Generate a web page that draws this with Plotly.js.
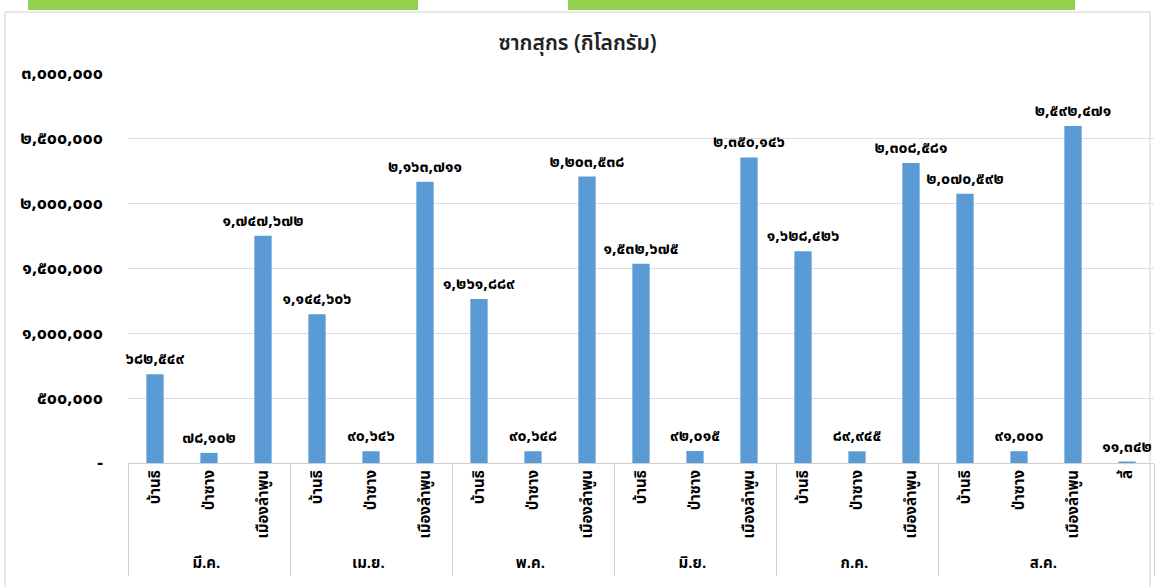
<!DOCTYPE html>
<html>
<head>
<meta charset="utf-8">
<script src="https://cdn.plot.ly/plotly-3.0.1.min.js"></script>
<style>
html,body{margin:0;padding:0;background:#fff;}
#chart{width:1155px;height:587px;}
</style>
</head>
<body>
<div id="chart"></div>
<script>
// ---- data ----
const months = ["มี.ค.","มี.ค.","มี.ค.","เม.ย.","เม.ย.","เม.ย.","พ.ค.","พ.ค.","พ.ค.","มิ.ย.","มิ.ย.","มิ.ย.","ก.ค.","ก.ค.","ก.ค.","ส.ค.","ส.ค.","ส.ค.","ส.ค."];
const districts = ["บ้านธิ","ป่าซาง","เมืองลำพูน","บ้านธิ","ป่าซาง","เมืองลำพูน","บ้านธิ","ป่าซาง","เมืองลำพูน","บ้านธิ","ป่าซาง","เมืองลำพูน","บ้านธิ","ป่าซาง","เมืองลำพูน","บ้านธิ","ป่าซาง","เมืองลำพูน","ลี้"];
const values = [682549, 78102, 1747672, 1144606, 90646, 2163711, 1261889, 90648, 2203538, 1532675, 92015, 2350146, 1628426, 89945, 2308581, 2070592, 91000, 2592471, 11342];
const yTickVals = [0, 500000, 1000000, 1500000, 2000000, 2500000, 3000000];
const yTickText = ["-", "๕๐๐,๐๐๐", "๑,๐๐๐,๐๐๐", "๑,๕๐๐,๐๐๐", "๒,๐๐๐,๐๐๐", "๒,๕๐๐,๐๐๐", "๓,๐๐๐,๐๐๐"];
const chartTitle = "ซากสุกร (กิโลกรัม)";

// ---- helpers ----
const thaiDigits = "๐๑๒๓๔๕๖๗๘๙";
function toThai(n){ return n.toLocaleString("en-US").replace(/\d/g, d => thaiDigits[+d]); }

const FONT = '"Noto Sans Thai", Tahoma, "Noto Sans", "DejaVu Sans", sans-serif';

// plot geometry in px (for header shapes)
const L = 128, R = 1154, T = 73, B = 463;
const px = x => (x - L) / (R - L);
const py = y => (B - y) / (B - T);

const trace = {
  type: "bar",
  x: [months, districts],
  y: values,
  marker: {color: "#5B9BD5"},
  text: values.map(toThai),
  textposition: "outside",
  constraintext: "none",
  cliponaxis: false,
  textfont: {family: FONT, size: 16, color: "#000", weight: "bold"},
  hoverinfo: "skip"
};

const layout = {
  width: 1155, height: 587,
  margin: {l: L, r: 1155 - R, t: T, b: 587 - B},
  paper_bgcolor: "#fff", plot_bgcolor: "#fff",
  showlegend: false,
  bargap: 0.68,
  title: {
    text: chartTitle,
    xref: "container", x: 0.5, xanchor: "center",
    yref: "container", y: 1 - 43/587, yanchor: "middle",
    font: {family: FONT, size: 21, color: "#222", weight: 600}
  },
  xaxis: {
    type: "multicategory",
    tickangle: -90,
    tickfont: {family: FONT, size: 15, color: "#000", weight: "bold"},
    showline: true, linecolor: "#d0d0d0", linewidth: 1,
    showdividers: true, dividercolor: "#d0d0d0", dividerwidth: 1,
    ticks: "", showgrid: false, zeroline: false
  },
  yaxis: {
    range: [0, 3000000],
    tickvals: yTickVals, ticktext: yTickText,
    tickfont: {family: FONT, size: 18, color: "#000", weight: "bold"},
    showgrid: true, gridcolor: "#dcdcdc", gridwidth: 1,
    zeroline: false, showline: false, ticks: "",
    ticklabelstandoff: 24
  },
  shapes: [
    // outer chart border
    {type: "rect", xref: "paper", yref: "paper", x0: px(5), x1: px(1150), y0: py(600), y1: py(12),
     line: {color: "#d0d0d0", width: 1}, fillcolor: "rgba(0,0,0,0)", layer: "below"},
    // green header bands (cut off at top)
    {type: "rect", xref: "paper", yref: "paper", x0: px(28), x1: px(418), y0: py(10), y1: py(-5),
     line: {width: 0}, fillcolor: "#92D050"},
    {type: "rect", xref: "paper", yref: "paper", x0: px(568), x1: px(1075), y0: py(10), y1: py(-5),
     line: {width: 0}, fillcolor: "#92D050"}
  ]
};

Plotly.newPlot("chart", [trace], layout, {staticPlot: true, displayModeBar: false});
</script>
</body>
</html>
